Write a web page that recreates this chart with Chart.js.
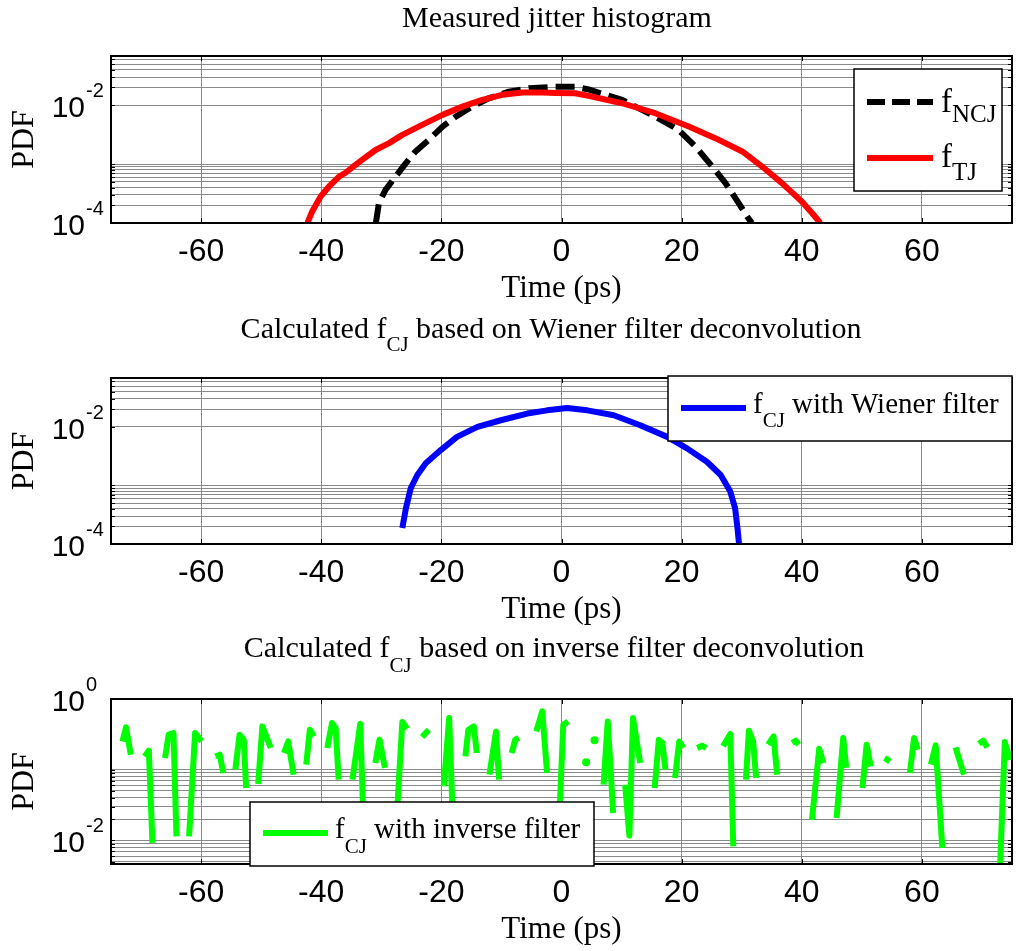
<!DOCTYPE html>
<html>
<head>
<meta charset="utf-8">
<script src="https://cdn.jsdelivr.net/npm/chart.js@4.4.0/dist/chart.umd.min.js"></script>
<style>
  html, body { margin: 0; padding: 0; background: #fff; }
  #wrap { position: relative; width: 1016px; height: 951px; overflow: hidden; background: #fff; }
  #wrap canvas { position: absolute; left: 0; top: 0; }
</style>
</head>
<body>
<div id="wrap">
  <canvas id="histChart" width="1016" height="951"></canvas>
  <canvas id="wienerChart" width="1016" height="951"></canvas>
  <canvas id="inverseChart" width="1016" height="951"></canvas>
</div>
<script>
// ---- data ----
const timeTicks = [-60, -40, -20, 0, 20, 40, 60];

// top panel: measured histograms
const ncjTime = [-30.9, -30.4, -29.3, -27.6, -25.9, -24.3, -22.1, -19.8, -17.6, -14.9, -12.1, -8.8, -5.4, -1.0, 2.3, 4.5, 10.1, 15.6, 19.5, 22.3, 25.1, 27.3, 29.5, 30.9, 31.7];
const ncjPdf = [1e-4, 2.18e-4, 3.66e-4, 6.17e-4, 1.04e-3, 1.64e-3, 2.58e-3, 4.34e-3, 6.41e-3, 9.46e-3, 1.31e-2, 1.70e-2, 1.94e-2, 2.05e-2, 2.05e-2, 1.85e-2, 1.23e-2, 6.41e-3, 3.81e-3, 1.99e-3, 9.1e-4, 4.76e-4, 2.18e-4, 1.29e-4, 1e-4];
const tjTime = [-42.3, -41.5, -40.1, -38.7, -37.0, -35.9, -34.3, -33.2, -30.9, -28.7, -26.5, -23.2, -19.8, -16.5, -13.2, -9.9, -6.5, -3.2, -1.0, 2.3, 4.5, 10.1, 15.6, 21.2, 25.6, 30.1, 33.4, 36.7, 40.0, 41.7, 43.1];
const tjPdf = [1e-4, 1.57e-4, 2.82e-4, 4.17e-4, 6.16e-4, 7.21e-4, 9.73e-4, 1.18e-3, 1.75e-3, 2.27e-3, 3.14e-3, 4.64e-3, 6.85e-3, 9.46e-3, 1.23e-2, 1.50e-2, 1.64e-2, 1.64e-2, 1.62e-2, 1.60e-2, 1.44e-2, 1.08e-2, 7.31e-3, 4.34e-3, 2.76e-3, 1.64e-3, 9.1e-4, 4.76e-4, 2.32e-4, 1.48e-4, 1e-4];

// middle panel: wiener filter result
const wienerTime = [-26.5, -25.9, -25.1, -24.0, -22.6, -20.1, -17.4, -14.0, -10.1, -5.7, -2.4, 0.9, 4.3, 8.7, 13.1, 17.6, 20.9, 24.2, 26.5, 28.1, 28.9, 29.3, 29.6];
const wienerPdf = [1.87e-4, 4.09e-4, 8.95e-4, 1.51e-3, 2.39e-3, 4.02e-3, 6.76e-3, 1.0e-2, 1.30e-2, 1.69e-2, 1.92e-2, 2.10e-2, 1.92e-2, 1.58e-2, 1.07e-2, 6.76e-3, 4.30e-3, 2.54e-3, 1.51e-3, 7.85e-4, 4.09e-4, 1.87e-4, 9e-5];

// bottom panel: inverse filter result (null = negative value, not drawn on log axis)
const inverseTime = [
  -73.1, -72.5, -71.7, -70.5, -69.4, -68.7, -68.1, -67.0, -66.0, -65.4, -64.6, -64.1, -63.0,
  -62.0, -61.0, -59.9, -58.7, -57.6, -56.9, -56.3, -55.3, -54.3, -53.6, -52.9, -52.5, -51.5,
  -50.5, -49.8, -48.4, -47.3, -46.2, -45.5, -44.6, -43.5, -42.5, -41.9, -41.2, -40.1,
  -39.0, -38.2, -37.6, -37.1, -36.0, -34.8, -33.5, -32.9, -32.0, -31.0, -30.3, -29.4, -28.5,
  -27.6, -26.5, -25.7, -24.5, -23.2, -22.1, -20.8, -19.6, -18.7, -18.0, -17.0,
  -16.0, -15.5, -14.6, -14.1, -13.0, -12.0, -10.9, -10.4, -9.4, -8.3, -7.7, -7.1, -5.6,
  -4.2, -3.2, -2.4, -1.5, -0.5, 0.3, 1.1, 2.6, 4.1, 4.8, 5.5, 6.2,
  7.0, 7.7, 8.6, 9.6, 10.6, 11.3, 11.9, 13.1, 14.3, 15.5, 16.2, 16.8, 17.3, 18.1,
  18.9, 19.6, 20.3, 21.4, 22.6, 23.4, 24.1, 25.5, 26.9, 28.1, 28.6, 29.6,
  30.7, 31.2, 31.9, 32.4, 33.4, 34.4, 35.3, 35.9, 37.1, 38.4, 39.0, 39.5, 40.6,
  41.7, 42.9, 43.6, 44.7, 45.8, 46.9, 47.4, 48.7, 50.1, 50.8, 51.5, 52.6, 53.8, 54.7, 56.3,
  58.0, 58.7, 59.3, 60.4, 61.5, 62.3, 63.4, 64.5, 65.6, 67.0, 68.2, 69.5, 70.2, 70.9, 72.0,
  73.0, 73.8, 74.7
];
const inverseFcj = [
  0.251, 0.397, 0.163, null, 0.154, 0.186, 0.0092, null, 0.146, 0.313, 0.330, 0.0114, null,
  0.0114, 0.330, 0.251, null, 0.154, 0.163, 0.0898, null, 0.100, 0.313, 0.266, 0.0551, null,
  0.0628, 0.410, 0.203, null, 0.172, 0.251, 0.085, null, 0.118, 0.368, 0.296, null,
  0.203, 0.458, 0.389, 0.0722, null, 0.0722, 0.447, 0.012, null, 0.124, 0.266, 0.106, null,
  0.012, 0.473, 0.38, null, 0.29, 0.368, null, 0.0581, 0.539, 0.012, null,
  0.154, 0.368, 0.410, 0.172, null, 0.085, 0.348, 0.0722, null, 0.172, 0.266, 0.281, null,
  0.348, 0.668, 0.0898, null, 0.012, 0.433, 0.482, null, 0.127, null, 0.26, null,
  0.0614, 0.482, 0.0244, null, 0.0614, 0.0117, 0.539, 0.124, null, 0.0551, 0.266, 0.239, 0.1, null,
  0.0763, 0.251, 0.203, null, 0.203, 0.218, 0.203, null, 0.214, 0.32, 0.0082, null,
  0.0722, 0.356, 0.251, 0.0763, null, 0.226, 0.296, 0.085, null, 0.239, 0.257, 0.226, null,
  0.0196, 0.198, 0.124, null, 0.0207, 0.281, 0.106, null, 0.0551, 0.226, 0.111, null, 0.146, 0.131, null,
  0.0898, 0.281, 0.192, null, 0.118, 0.221, 0.0078, null, 0.207, 0.085, null, 0.231, 0.257, 0.207, null,
  0.004, 0.246, 0.138
];

// log axis grid values and labelled decades
const histGrid = [1e-4, 2e-4, 3e-4, 4e-4, 5e-4, 6e-4, 7e-4, 8e-4, 9e-4, 1e-3, 1e-2, 2e-2, 3e-2, 4e-2, 5e-2, 6e-2];
const histLabelValues = [1e-4, 1e-2];
const histLabelExps = ['-4', '-2'];
const inverseGrid = [5e-3, 6e-3, 7e-3, 8e-3, 9e-3, 1e-2, 2e-2, 3e-2, 4e-2, 5e-2, 6e-2, 7e-2, 8e-2, 9e-2, 1e-1];
const inverseLabelValues = [1, 1e-2];
const inverseLabelExps = ['0', '-2'];

// ---- drawing ----
const SANS = '"Liberation Sans", Arial, sans-serif';
const SERIF = '"Liberation Serif", "Times New Roman", serif';
const gridColor = '#8a8a8a';

function pts(xs, ys) {
  return xs.map((x, i) => ({ x: x, y: ys[i] }));
}

function drawRich(ctx, parts, x, baseline, center) {
  let total = 0;
  parts.forEach(p => { ctx.font = p.font; total += ctx.measureText(p.text).width; });
  let cx = center ? x - total / 2 : x;
  ctx.textAlign = 'left';
  ctx.textBaseline = 'alphabetic';
  ctx.fillStyle = '#000';
  parts.forEach(p => {
    ctx.font = p.font;
    ctx.fillText(p.text, cx, baseline + (p.dy || 0));
    cx += ctx.measureText(p.text).width;
  });
}

// "<pre>f" + subscript "CJ" + "<rest>"
function fcjParts(pre, rest, size, sub, dy) {
  return [
    { text: pre + 'f', font: size + 'px ' + SERIF },
    { text: 'CJ', font: sub + 'px ' + SERIF, dy: dy },
    { text: rest, font: size + 'px ' + SERIF }
  ];
}

function panelPlugin(spec) {
  return {
    id: 'panelDecor',
    afterDraw(chart) {
      const { ctx, chartArea: a, scales } = chart;
      const xs = scales.x, ys = scales.y;
      ctx.save();
      // small inward tick marks
      ctx.strokeStyle = '#000';
      ctx.lineWidth = 1;
      ctx.beginPath();
      timeTicks.forEach(v => {
        const px = Math.round(xs.getPixelForValue(v)) + 0.5;
        ctx.moveTo(px, a.top); ctx.lineTo(px, a.top + 5);
        ctx.moveTo(px, a.bottom); ctx.lineTo(px, a.bottom - 5);
      });
      spec.grid.forEach(v => {
        const py = Math.round(ys.getPixelForValue(v)) + 0.5;
        ctx.moveTo(a.left, py); ctx.lineTo(a.left + 4, py);
        ctx.moveTo(a.right, py); ctx.lineTo(a.right - 4, py);
      });
      ctx.stroke();
      // axes box
      ctx.lineWidth = 2;
      ctx.strokeRect(a.left, a.top, a.right - a.left, a.bottom - a.top);
      // decade labels with superscript
      ctx.fillStyle = '#000';
      ctx.textBaseline = 'alphabetic';
      spec.labelValues.forEach((v, i) => {
        const py = ys.getPixelForValue(v);
        ctx.font = '30px ' + SANS;
        ctx.textAlign = 'right';
        ctx.fillText('10', 85, py + 12);
        ctx.font = '20px ' + SANS;
        ctx.textAlign = 'left';
        ctx.fillText(spec.labelExps[i], 86, py - 8);
      });
      // title
      drawRich(ctx, spec.title.parts, spec.title.x, spec.title.y, true);
      // legend
      const L = spec.legend;
      ctx.fillStyle = '#fff';
      ctx.fillRect(L.x1, L.y1, L.x2 - L.x1, L.y2 - L.y1);
      ctx.strokeStyle = '#000';
      ctx.lineWidth = 1.5;
      ctx.strokeRect(L.x1, L.y1, L.x2 - L.x1, L.y2 - L.y1);
      L.items.forEach(it => {
        ctx.save();
        ctx.strokeStyle = it.color;
        ctx.lineWidth = 6;
        ctx.setLineDash(it.dash || []);
        ctx.beginPath();
        ctx.moveTo(it.x1, it.y);
        ctx.lineTo(it.x2, it.y);
        ctx.stroke();
        ctx.restore();
        drawRich(ctx, it.parts, it.tx, it.ty, false);
      });
      ctx.restore();
    }
  };
}

function makePanel(id, spec) {
  return new Chart(document.getElementById(id), {
    type: 'line',
    data: { datasets: spec.datasets },
    options: {
      responsive: false,
      animation: false,
      devicePixelRatio: 1,
      layout: { padding: { top: spec.top, bottom: 951 - spec.bottom - 85, left: 0, right: 4 } },
      plugins: { legend: { display: false }, tooltip: { enabled: false } },
      elements: { line: { tension: 0 } },
      scales: {
        x: {
          type: 'linear', min: -75, max: 75,
          afterBuildTicks: s => { s.ticks = timeTicks.map(v => ({ value: v })); },
          afterFit: s => { s.height = 85; },
          grid: { color: gridColor, lineWidth: 1, drawTicks: false },
          border: { display: false },
          ticks: { padding: 10, color: '#000', maxRotation: 0, autoSkip: false, font: { family: SANS, size: 32 } },
          title: { display: true, text: 'Time (ps)', color: '#000', font: { family: SERIF, size: 31 }, padding: { top: 0, bottom: 1 } }
        },
        y: {
          type: 'logarithmic', min: spec.yMin, max: spec.yMax,
          afterBuildTicks: s => { s.ticks = spec.grid.map(v => ({ value: v })); },
          afterFit: s => { s.width = 111; },
          grid: { color: gridColor, lineWidth: 1, drawTicks: false },
          border: { display: false },
          ticks: { display: false },
          title: { display: true, text: 'PDF', color: '#000', font: { family: SERIF, size: 32 }, padding: { top: 5, bottom: 0 } }
        }
      }
    },
    plugins: [panelPlugin(spec)]
  });
}

const lineBase = { borderWidth: 6, pointRadius: 0, fill: false, clip: 0, borderJoinStyle: 'round', borderCapStyle: 'butt' };

makePanel('histChart', {
  top: 56, bottom: 223, yMin: 1e-4, yMax: 0.0685,
  grid: histGrid, labelValues: histLabelValues, labelExps: histLabelExps,
  datasets: [
    Object.assign({ label: 'f_TJ', data: pts(tjTime, tjPdf), borderColor: '#ff0000', order: 0 }, lineBase),
    Object.assign({ label: 'f_NCJ', data: pts(ncjTime, ncjPdf), borderColor: '#000000', borderDash: [19, 8], order: 1 }, lineBase)
  ],
  title: { x: 557, y: 27, parts: [{ text: 'Measured jitter histogram', font: '30px ' + SERIF }] },
  legend: {
    x1: 854, y1: 69, x2: 1002, y2: 191,
    items: [
      { color: '#000', dash: [18, 7], x1: 867, x2: 933, y: 102, tx: 941, ty: 112,
        parts: [{ text: 'f', font: '33px ' + SERIF }, { text: 'NCJ', font: '25px ' + SERIF, dy: 10 }] },
      { color: '#ff0000', x1: 867, x2: 933, y: 158, tx: 941, ty: 167,
        parts: [{ text: 'f', font: '33px ' + SERIF }, { text: 'TJ', font: '25px ' + SERIF, dy: 13 }] }
    ]
  }
});

makePanel('wienerChart', {
  top: 378, bottom: 544, yMin: 1e-4, yMax: 0.0685,
  grid: histGrid, labelValues: histLabelValues, labelExps: histLabelExps,
  datasets: [
    Object.assign({ label: 'f_CJ with Wiener filter', data: pts(wienerTime, wienerPdf), borderColor: '#0000ff' }, lineBase)
  ],
  title: { x: 551, y: 338, parts: fcjParts('Calculated ', ' based on Wiener filter deconvolution', 30, 21, 13) },
  legend: {
    x1: 668, y1: 376, x2: 1012, y2: 441,
    items: [
      { color: '#0000ff', x1: 681, x2: 746, y: 408, tx: 753, ty: 413, parts: fcjParts('', ' with Wiener filter', 29, 21, 14) }
    ]
  }
});

makePanel('inverseChart', {
  top: 699, bottom: 864, yMin: 0.00463, yMax: 1,
  grid: inverseGrid, labelValues: inverseLabelValues, labelExps: inverseLabelExps,
  datasets: [
    Object.assign({}, lineBase, {
      label: 'f_CJ with inverse filter', data: pts(inverseTime, inverseFcj), borderColor: '#00ff00',
      pointBackgroundColor: '#00ff00', pointBorderWidth: 0,
      pointRadius: c => {
        const i = c.dataIndex;
        return inverseFcj[i] != null && inverseFcj[i - 1] == null && inverseFcj[i + 1] == null ? 4 : 0;
      }
    })
  ],
  title: { x: 554, y: 657, parts: fcjParts('Calculated ', ' based on inverse filter deconvolution', 30, 21, 15) },
  legend: {
    x1: 250, y1: 802, x2: 594, y2: 866,
    items: [
      { color: '#00ff00', x1: 263, x2: 328, y: 833, tx: 335, ty: 838, parts: fcjParts('', ' with inverse filter', 29, 21, 15) }
    ]
  }
});
</script>
</body>
</html>
